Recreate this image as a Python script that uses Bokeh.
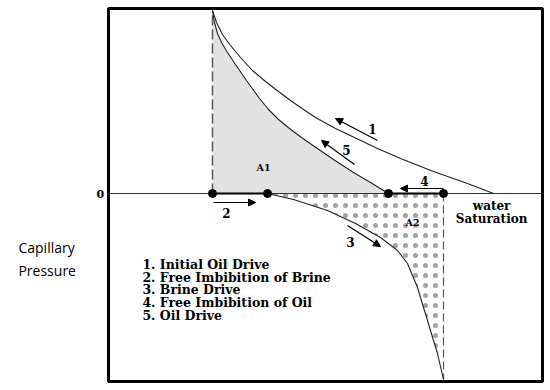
from bokeh.plotting import figure
from bokeh.models import Range1d, Label, Arrow, NormalHead, BoxAnnotation
from bokeh.embed import file_html
from bokeh.resources import INLINE

# ---- data (water saturation, capillary pressure) ----
initial_oil_sw = [0.2000, 0.2104, 0.2260, 0.2468, 0.2727, 0.3039, 0.3377, 0.3714, 0.4026,
                  0.4364, 0.4675, 0.5195, 0.5740, 0.6286, 0.6883, 0.7740, 0.8623, 0.9299]
initial_oil_pc = [1.83, 1.71, 1.59, 1.48, 1.36, 1.23, 1.12, 1.02, 0.93,
                  0.84, 0.76, 0.65, 0.55, 0.45, 0.35, 0.22, 0.10, 0.0]

oil_drive_sw = [0.2000, 0.2052, 0.2130, 0.2234, 0.2390, 0.2597, 0.2883, 0.3221, 0.3455,
                0.3714, 0.4000, 0.4312, 0.4649, 0.5143, 0.5662, 0.6104, 0.6571]
oil_drive_pc = [1.83, 1.71, 1.60, 1.51, 1.41, 1.29, 1.13, 0.95, 0.84,
                0.74, 0.65, 0.56, 0.47, 0.34, 0.21, 0.11, 0.0]

brine_drive_sw = [0.343, 0.4104, 0.4987, 0.5714, 0.6364, 0.6805, 0.7065, 0.7325, 0.7481,
                  0.7662, 0.7844, 0.800]
brine_drive_pc = [0.0, -0.06, -0.17, -0.30, -0.44, -0.57, -0.70, -0.94, -1.14, -1.37, -1.60, -1.86]

zero_points_sw = [0.200, 0.343, 0.6571, 0.800]
swi = 0.200
sw_end = 0.800
pc_top = 1.83
pc_bottom = -1.86

# plot box (axis frame of the original figure)
box_left, box_right, box_top, box_bottom = -0.0701, 1.0571, 1.85, -1.88

legend_items = ["1. Initial Oil Drive", "2. Free Imbibition of Brine", "3. Brine Drive",
                "4. Free Imbibition of Oil", "5. Oil Drive"]
legend_pc = [-0.71, -0.837, -0.963, -1.09, -1.217]

arrow_labels = ["1", "2", "3", "4", "5"]
arrow_x0 = [0.6286, 0.2026, 0.5506, 0.800, 0.5688]
arrow_y0 = [0.53, -0.09, -0.32, 0.05, 0.29]
arrow_x1 = [0.5195, 0.3117, 0.6364, 0.6883, 0.4831]
arrow_y1 = [0.75, -0.09, -0.53, 0.05, 0.53]
label_x = [0.6156, 0.2364, 0.5584, 0.7506, 0.5480]
label_y = [0.65, -0.19, -0.48, 0.13, 0.44]

SERIF = "DejaVu Serif"

p = figure(width=546, height=384, x_range=Range1d(-0.3506, 1.0675), y_range=Range1d(-1.91, 1.93),
           output_backend="svg", toolbar_location=None, x_axis_type=None, y_axis_type=None,
           min_border_left=0, min_border_right=0, min_border_top=0, min_border_bottom=0)
p.outline_line_color = None
p.background_fill_color = "white"
p.border_fill_color = "white"

# A1 shaded area
a1_x = oil_drive_sw + [swi]
a1_y = oil_drive_pc + [0.0]
p.patch(a1_x, a1_y, fill_color="#e2e2e2", line_color=None)

# A2 dotted area
a2_x = brine_drive_sw + [sw_end]
a2_y = brine_drive_pc + [0.0]
p.patch(a2_x, a2_y, fill_color="white", fill_alpha=0.0, line_color=None,
        hatch_pattern="dot", hatch_scale=10, hatch_weight=0.2, hatch_color="#555555",
        hatch_alpha=0.55)

# zero line
p.line([box_left, box_right], [0.0, 0.0], line_color="#333333", line_width=1)

# dashed verticals
p.line([swi, swi], [0.0, pc_top], line_color="#555555", line_width=1.5, line_dash="10 4")
p.line([sw_end, sw_end], [0.0, pc_bottom], line_color="#555555", line_width=1.2, line_dash="8 4")

# curves
p.line(initial_oil_sw, initial_oil_pc, line_color="#222222", line_width=1.1)
p.line(oil_drive_sw, oil_drive_pc, line_color="#222222", line_width=1.1)
p.line(brine_drive_sw, brine_drive_pc, line_color="#222222", line_width=1.1)

# bold free-imbibition segments
p.line(zero_points_sw[0:2], [0, 0], line_color="black", line_width=2.2)
p.line(zero_points_sw[2:4], [0, 0], line_color="black", line_width=2.2)
p.scatter(zero_points_sw, [0, 0, 0, 0], size=8, color="black")

# box
p.add_layout(BoxAnnotation(left=box_left, right=box_right, top=box_top, bottom=box_bottom,
                           fill_alpha=0, line_color="black", line_alpha=1.0, line_width=3))

# arrows and numbers
for i in range(len(arrow_labels)):
    p.add_layout(Arrow(end=NormalHead(size=7, fill_color="black", line_color="black"),
                       x_start=arrow_x0[i], y_start=arrow_y0[i], x_end=arrow_x1[i], y_end=arrow_y1[i],
                       line_color="black", line_width=1.2))
    p.add_layout(Label(x=label_x[i], y=label_y[i], text=arrow_labels[i], text_font=SERIF,
                       text_font_style="bold", text_font_size="12px", text_align="center",
                       text_baseline="middle", text_color="black"))

def lab(x, y, t, size, align="left", font=SERIF, style="bold"):
    p.add_layout(Label(x=x, y=y, text=t, text_font=font, text_font_style=style,
                       text_font_size=size, text_align=align, text_baseline="middle",
                       text_color="black"))

lab(0.3325, 0.26, "A1", "9.5px", "center")
lab(0.7195, -0.29, "A2", "9.5px", "center")
lab(0.925, -0.12, "water", "12px", "center")
lab(0.925, -0.25, "Saturation", "12px", "center")
lab(-0.091, 0.0, "0", "11px", "center")
lab(-0.304, -0.54, "Capillary", "14px", "left", "Open Sans", "normal")
lab(-0.304, -0.77, "Pressure", "14px", "left", "Open Sans", "normal")

for t, y in zip(legend_items, legend_pc):
    lab(0.018, y, t, "12.5px", "left")

open("out.html", "w").write(file_html(p, INLINE))
